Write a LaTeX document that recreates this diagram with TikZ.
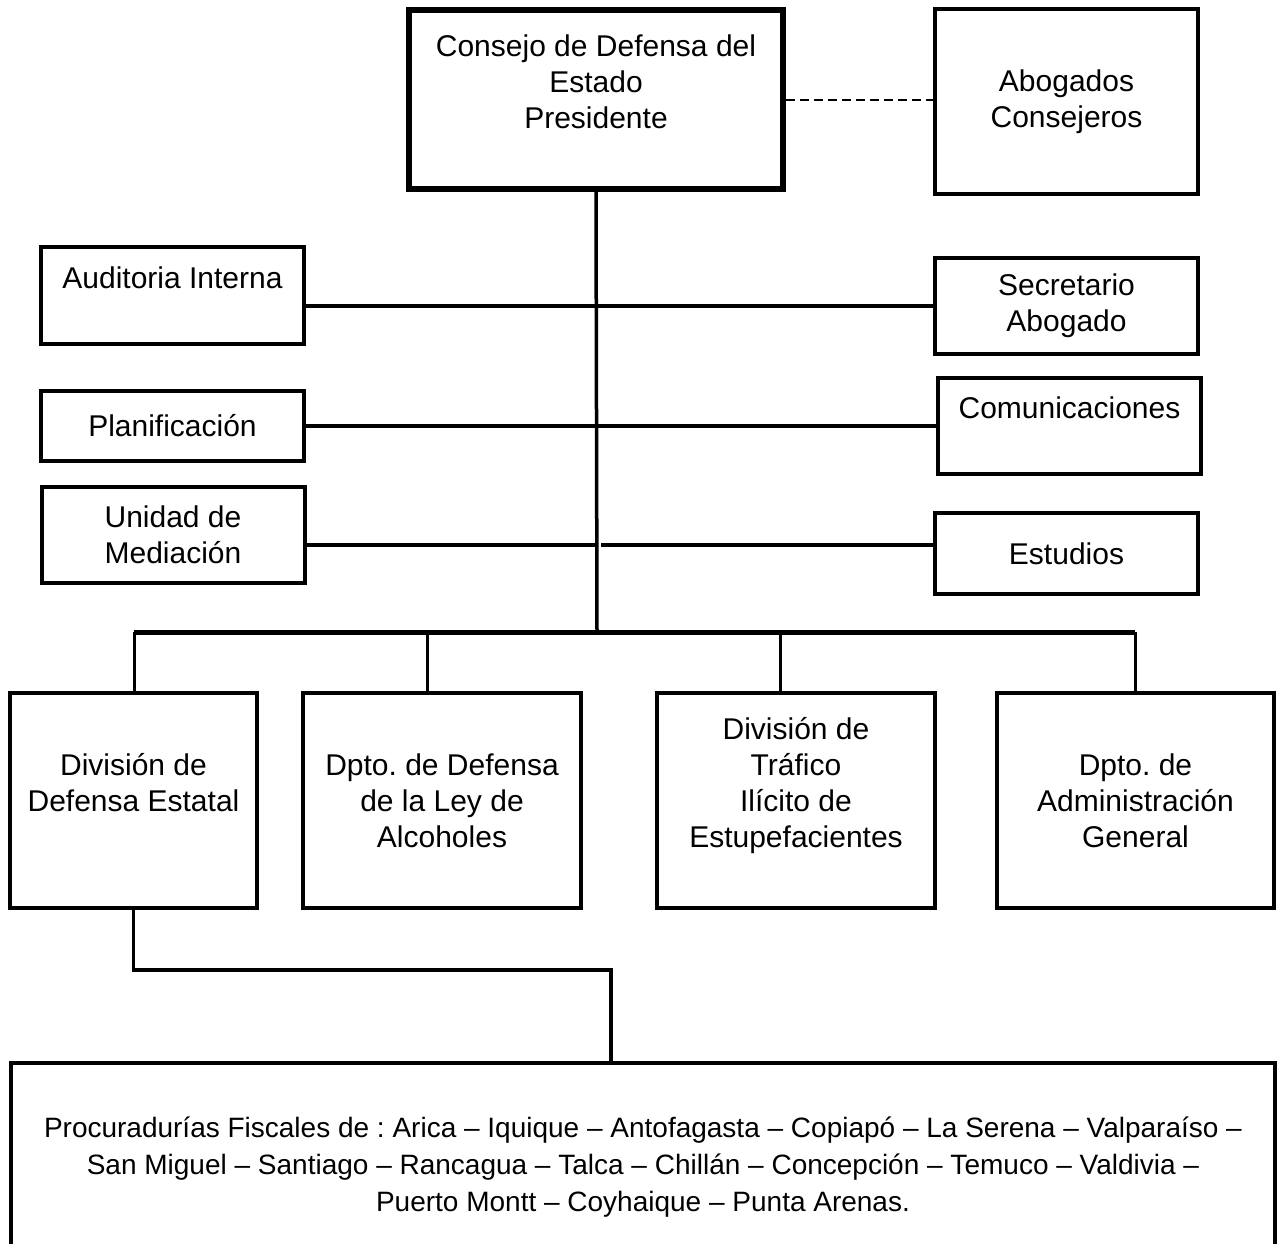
\documentclass[tikz,border=0pt]{standalone}
\usepackage{fontspec}
\setmainfont{Liberation Sans}
\usetikzlibrary{calc}
\frenchspacing

\begin{document}
\begin{tikzpicture}[x=1pt,y=-1pt,
  unit/.style={draw,line width=4pt,align=center,inner sep=0pt,
    font=\fontsize{30}{36}\selectfont},
  side/.style={unit,minimum width=263,minimum height=96},
  dept/.style={unit,minimum width=278,minimum height=215},
  link/.style={line width=3.5pt}]
  \clip (0,0) rectangle (1277,1243);
  % head of the council
  \node[unit,line width=6pt,minimum width=374,minimum height=179] (pres) at (596,99.5)
    {Consejo de Defensa del\\Estado\\Presidente\\\mbox{}};
  \node[unit,minimum width=263,minimum height=185] (abog) at (1066.5,101.5)
    {Abogados\\Consejeros};
  % staff units
  \node[side,minimum height=97] (aud) at (172.5,295.5) {Auditoria Interna\\\mbox{}};
  \node[side] (sec) at (1066.5,306) {Secretario\\Abogado};
  \node[side,minimum height=70] (plan) at (172.5,426) {Planificación};
  \node[side] (com) at (1069.5,426) {Comunicaciones\\\mbox{}};
  \node[side] (med) at (173,535) {Unidad de\\Mediación};
  \node[side,minimum height=81] (est) at (1066.5,553.5) {Estudios};
  % divisions
  \node[dept,minimum width=247] (div1) at (133.5,800.5) {División de\\Defensa Estatal\\\mbox{}};
  \node[dept] (div2) at (442,800.5) {Dpto. de Defensa\\de la Ley de\\Alcoholes};
  \node[dept] (div3) at (796,800.5) {División de\\Tráfico\\Ilícito de\\Estupefacientes\\\mbox{}};
  \node[dept,minimum width=277] (div4) at (1135.5,800.5) {Dpto. de\\Administración\\General};
  \node[unit,font=\fontsize{28}{37}\selectfont,minimum width=1264,minimum height=208] (proc) at (643,1167)
    {Procuradurías Fiscales de : Arica – Iquique – Antofagasta – Copiapó – La Serena – Valparaíso –\\
     San Miguel – Santiago – Rancagua – Talca – Chillán – Concepción – Temuco – Valdivia –\\
     Puerto Montt – Coyhaique – Punta Arenas.};
  % junctions
  \coordinate (bus) at (597,632);
  \coordinate (j3) at (597,545);
  \coordinate (d1) at (134,632);
  \coordinate (d2) at (427,632);
  \coordinate (d3) at (780,632);
  \coordinate (d4) at (1135,632);
  \coordinate (pk) at (611,970);
  % lines
  \draw[line width=2pt,dash pattern=on 9pt off 5pt] (pres.east) -- (pres.east -| abog.west);
  \draw[link] (pres.south) -- (bus);
  \draw[link] (aud.east |- sec.west) -- (sec.west);
  \draw[link] (plan.east) -- (com.west);
  \draw[link] (med.east |- j3) -- (j3);
  \draw[link] ([xshift=4pt]j3) -- (est.west |- j3);
  \draw[line width=5pt] (d1) -- (d4);
  \foreach \d/\b in {d1/div1,d2/div2,d3/div3,d4/div4}
    \draw[line width=3pt] (\d) -- (\d |- \b.north);
  \draw[link] (div1.south) |- (pk) -- (pk |- proc.north);
\end{tikzpicture}
\end{document}
